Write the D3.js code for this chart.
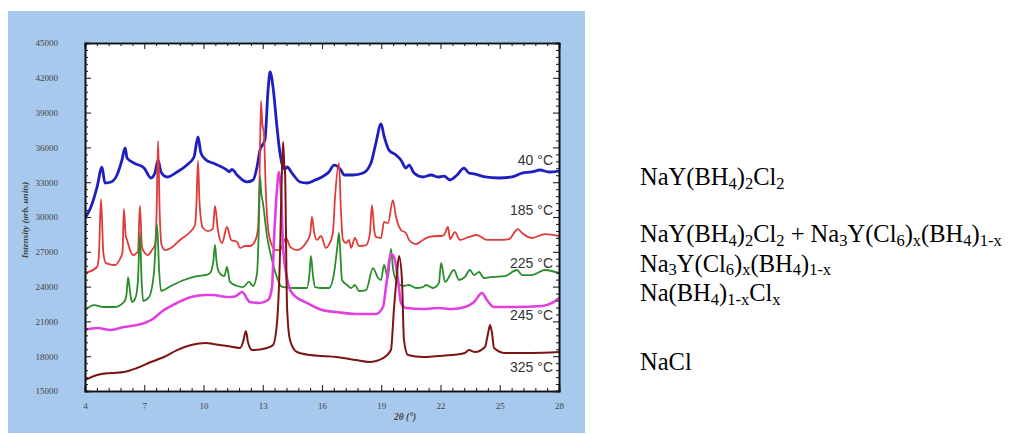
<!DOCTYPE html>
<html>
<head>
<meta charset="utf-8">
<script src="https://cdn.jsdelivr.net/npm/d3@7/dist/d3.min.js"></script>
<style>
  html, body { margin: 0; padding: 0; background: #fff; }
  svg { display: block; }
</style>
</head>
<body>
<svg id="chart" width="1031" height="434"></svg>
<script>
// In-situ powder diffraction patterns: [2θ (°), intensity (arb. units)]
const scan40 = [
  [4.00,29900],[4.30,30860],[4.61,32580],[4.86,34300],[5.01,32930],[5.32,33020],[5.62,33620],
  [5.87,34910],[6.03,35950],[6.13,35080],[6.48,34650],[6.99,34220],[7.34,33360],[7.54,33790],
  [7.70,34910],[7.85,33880],[8.15,33450],[8.66,33880],[9.16,34480],[9.52,35170],[9.72,36900],
  [9.87,35520],[10.13,34910],[10.48,34650],[11.19,34050],[11.30,33900],[11.44,34100],[11.70,33620],
  [12.20,33020],[12.51,33190],[12.71,34310],[12.86,35770],[13.11,36640],[13.27,40950],[13.37,42500],
  [13.52,41200],[13.72,37760],[13.87,35520],[14.03,34310],[14.13,34150],[14.23,34310],[14.48,33790],
  [14.89,33020],[15.24,32930],[15.65,33190],[16.00,33450],[16.35,33880],[16.61,34480],[16.96,34050],
  [17.11,33620],[17.57,33620],[18.08,33790],[18.48,34650],[18.73,36380],[18.99,38020],[19.14,37000],
  [19.39,35770],[19.75,35340],[20.00,34910],[20.25,34220],[20.41,34480],[20.66,33790],[21.11,33450],
  [21.52,33620],[21.87,33450],[22.18,33530],[22.48,33190],[22.84,33620],[23.19,34220],[23.44,33790],
  [23.75,33700],[24.25,33450],[24.96,33360],[25.62,33450],[26.13,33790],[26.63,33880],[27.04,34050],
  [27.49,33880],[28.00,33960]
];

const scan185 = [
  [4.00,25170],[4.61,25690],[4.70,26600],[4.81,31550],[4.93,26900],[5.06,26030],[5.52,25860],
  [5.77,26380],[5.90,27000],[5.97,30690],[6.06,28400],[6.13,28020],[6.28,27150],[6.43,26720],
  [6.68,27000],[6.78,30950],[6.88,27500],[6.94,27150],[7.19,26720],[7.39,27150],[7.54,27580],
  [7.62,30000],[7.70,36550],[7.78,30500],[7.88,27580],[8.05,27150],[8.35,27330],[8.81,28020],
  [9.32,28710],[9.57,29310],[9.64,31000],[9.72,34830],[9.80,31200],[9.97,29050],[10.23,28790],
  [10.48,29000],[10.58,30950],[10.73,28880],[10.94,27760],[11.19,29140],[11.40,28020],[11.70,27850],
  [11.85,27330],[12.10,27500],[12.35,27500],[12.61,27930],[12.76,29000],[12.84,33500],[12.91,40000],
  [12.98,38000],[13.06,37240],[13.14,33000],[13.22,30000],[13.37,28020],[13.65,27150],[13.87,27150],
  [14.18,28190],[14.40,27400],[14.73,27150],[15.20,27800],[15.40,28500],[15.49,30000],[15.60,28700],
  [15.75,28020],[15.95,28360],[16.20,27330],[16.35,27600],[16.55,28600],[16.66,31720],[16.86,34650],
  [16.96,30500],[17.06,28020],[17.22,27760],[17.37,28020],[17.47,27330],[17.67,28190],[17.87,27500],
  [18.23,27580],[18.42,28500],[18.53,31030],[18.65,28800],[18.73,28280],[18.99,28190],[19.14,29570],
  [19.34,29480],[19.59,31460],[19.75,30000],[20.00,28880],[20.25,28620],[20.41,28020],[20.76,27670],
  [21.11,28020],[21.42,28280],[21.87,28360],[22.03,28360],[22.20,28500],[22.38,29140],[22.48,28100],
  [22.73,28700],[22.99,28020],[23.44,28280],[23.85,28450],[24.35,28020],[24.96,28020],[25.47,28100],
  [25.92,28960],[26.13,28620],[26.63,28190],[27.29,28530],[28.00,28360]
];

const scan225 = [
  [4.00,21980],[4.46,22410],[4.96,22240],[5.47,22240],[5.97,22670],[6.10,23300],[6.18,24820],
  [6.30,23300],[6.38,22670],[6.55,23000],[6.68,24500],[6.78,28620],[6.86,24800],[6.94,22760],
  [7.24,23100],[7.49,25170],[7.65,29310],[7.75,25500],[7.85,23620],[8.35,24050],[9.01,24570],
  [9.67,24910],[10.13,25000],[10.33,25170],[10.50,26200],[10.58,27590],[10.66,26200],[10.78,25260],
  [11.05,24900],[11.19,25690],[11.34,24400],[11.70,24050],[12.00,23960],[12.30,24400],[12.51,24050],
  [12.71,25170],[12.80,29000],[12.86,33450],[12.93,32000],[13.01,31200],[13.22,28280],[13.47,26300],
  [13.70,24900],[13.95,24000],[14.53,23880],[15.24,23880],[15.36,25000],[15.44,26640],[15.54,25000],
  [15.65,23960],[16.00,23880],[16.35,23880],[16.61,25170],[16.78,27500],[16.86,28620],[16.94,26500],
  [17.01,24570],[17.27,24140],[17.47,23880],[17.67,24140],[17.87,23620],[18.23,23700],[18.58,25600],
  [18.84,24740],[18.99,24570],[19.14,25860],[19.34,24740],[19.49,27240],[19.60,25500],[19.75,24570],
  [20.10,24050],[20.41,24140],[20.76,23880],[21.11,23960],[21.27,24140],[21.62,23880],[21.92,24310],
  [22.03,26040],[22.23,24400],[22.68,25430],[22.94,24570],[23.24,24830],[23.49,25430],[23.70,24990],
  [23.95,25260],[24.20,24740],[24.61,24830],[25.27,24910],[25.87,25430],[26.13,24990],[26.63,24990],
  [27.29,25430],[28.00,25170]
];

const scan245 = [
  [4.00,20260],[4.61,20430],[5.32,20260],[5.97,20520],[6.63,20690],[7.34,21120],[8.00,21980],
  [8.66,22590],[9.37,23100],[10.13,23280],[10.48,23280],[11.19,23100],[11.60,23150],[11.95,23530],
  [12.35,22670],[12.86,22590],[13.27,22840],[13.47,23960],[13.57,28020],[13.72,32330],[13.82,33880],
  [13.92,32330],[14.03,27410],[14.18,25170],[14.48,23450],[15.24,22590],[16.00,21980],[16.71,21810],
  [17.72,21640],[18.73,21640],[19.09,22240],[19.24,23960],[19.49,26810],[19.65,26550],[19.85,24570],
  [20.00,22590],[20.25,22160],[21.11,22070],[21.87,22160],[22.58,22070],[23.24,22240],[23.70,22670],
  [24.10,23450],[24.35,22840],[24.71,22240],[25.77,22240],[27.14,22330],[27.65,22590],[28.00,23020]
];

const scan325 = [
  [4.00,15950],[4.61,16380],[5.32,16550],[5.97,16640],[6.63,16980],[7.34,17500],[8.00,17930],
  [8.66,18530],[9.37,18970],[10.13,19140],[10.48,19050],[11.19,18880],[11.85,18710],[12.00,19220],
  [12.15,20170],[12.25,19220],[12.46,18530],[13.22,18710],[13.52,18970],[13.72,20860],[13.87,26550],
  [13.97,34000],[14.03,36460],[14.09,34500],[14.13,33790],[14.23,22240],[14.38,19400],[14.73,18360],
  [15.39,18100],[16.00,18020],[16.71,17930],[17.72,17670],[18.38,17500],[19.09,17840],[19.49,18530],
  [19.65,22240],[19.80,25170],[19.90,26640],[20.05,24570],[20.15,19400],[20.35,18100],[21.11,17930],
  [21.87,18020],[22.58,18100],[23.24,18280],[23.44,18530],[23.75,18360],[24.25,18790],[24.41,19990],
  [24.51,20690],[24.61,19990],[24.71,18710],[25.27,18280],[26.63,18280],[28.00,18360]
];

const seriesNames = ["40 °C", "185 °C", "225 °C", "245 °C", "325 °C"];
const seriesColors = ["#1f1fbf", "#e03a3a", "#2a8c2a", "#e040e0", "#7d1414"];
const seriesWidths = [2.8, 1.8, 1.8, 2.6, 2.0];
const seriesData = [scan40, scan185, scan225, scan245, scan325];
// vertical position (intensity) of each temperature label
const labelLevels = [34450, 30150, 25600, 21100, 16600];

const xTicks = [4, 7, 10, 13, 16, 19, 22, 25, 28];
const yTicks = [15000, 18000, 21000, 24000, 27000, 30000, 33000, 36000, 39000, 42000, 45000];

const phaseLines = [
  [["NaY(BH", ""], ["4", "sub"], [")", ""], ["2", "sub"], ["Cl", ""], ["2", "sub"]],
  [["NaY(BH", ""], ["4", "sub"], [")", ""], ["2", "sub"], ["Cl", ""], ["2", "sub"],
   [" + Na", ""], ["3", "sub"], ["Y(Cl", ""], ["6", "sub"], [")", ""], ["x", "sub"],
   ["(BH", ""], ["4", "sub"], [")", ""], ["1-x", "sub"]],
  [["Na", ""], ["3", "sub"], ["Y(Cl", ""], ["6", "sub"], [")", ""], ["x", "sub"],
   ["(BH", ""], ["4", "sub"], [")", ""], ["1-x", "sub"]],
  [["Na(BH", ""], ["4", "sub"], [")", ""], ["1-x", "sub"], ["Cl", ""], ["x", "sub"]],
  [["NaCl", ""]]
];
const phaseBaselines = [185, 242, 271.5, 301, 370];

const svg = d3.select("#chart");

// panel background
svg.append("rect").attr("x", 8).attr("y", 11).attr("width", 577).attr("height", 422)
  .attr("fill", "#a7c9ed");

const plotLeft = 85, plotRight = 559, plotTop = 43, plotBottom = 391;
svg.append("rect").attr("x", plotLeft).attr("y", plotTop)
  .attr("width", plotRight - plotLeft).attr("height", plotBottom - plotTop)
  .attr("fill", "#ffffff");

const x = d3.scaleLinear().domain([4, 28]).range([plotLeft, plotRight]);
const y = d3.scaleLinear().domain([15000, 45000]).range([plotBottom, plotTop]);

svg.append("clipPath").attr("id", "plotclip").append("rect")
  .attr("x", plotLeft).attr("y", plotTop)
  .attr("width", plotRight - plotLeft).attr("height", plotBottom - plotTop);

const line = d3.line().x(d => x(d[0])).y(d => y(d[1])).curve(d3.curveMonotoneX);

const plot = svg.append("g").attr("clip-path", "url(#plotclip)");
seriesData.forEach((data, i) => {
  plot.append("path").datum(data)
    .attr("d", line)
    .attr("fill", "none")
    .attr("stroke", seriesColors[i])
    .attr("stroke-width", seriesWidths[i])
    .attr("stroke-linejoin", "round");
});

// temperature labels
seriesNames.forEach((name, i) => {
  svg.append("text")
    .attr("x", plotRight - 6).attr("y", y(labelLevels[i]))
    .attr("text-anchor", "end")
    .attr("font-family", "Liberation Sans, Arial, sans-serif")
    .attr("font-size", 14)
    .attr("fill", "#333")
    .text(name);
});

// axes: ticks pointing into the frame on all four sides
const minorX = d3.range(4, 28.001, 0.6).filter(v => !xTicks.some(t => Math.abs(t - v) < 1e-6));
const minorY = d3.range(15000, 45001, 600).filter(v => v % 3000 !== 0);

const axisFont = "Liberation Serif, Times New Roman, serif";

const gx = svg.append("g").attr("transform", `translate(0,${plotBottom})`)
  .call(d3.axisBottom(x).tickValues(xTicks).tickSize(-6).tickPadding(12).tickFormat(d3.format("d")));
const gxMinor = svg.append("g").attr("transform", `translate(0,${plotBottom})`)
  .call(d3.axisBottom(x).tickValues(minorX).tickSize(-3).tickFormat(""));
const gxTop = svg.append("g").attr("transform", `translate(0,${plotTop})`)
  .call(d3.axisTop(x).tickValues(xTicks).tickSize(-6).tickFormat(""));
const gxTopMinor = svg.append("g").attr("transform", `translate(0,${plotTop})`)
  .call(d3.axisTop(x).tickValues(minorX).tickSize(-3).tickFormat(""));

const gy = svg.append("g").attr("transform", `translate(${plotLeft},0)`)
  .call(d3.axisLeft(y).tickValues(yTicks).tickSize(-6).tickPadding(27).tickFormat(d3.format("d")));
const gyMinor = svg.append("g").attr("transform", `translate(${plotLeft},0)`)
  .call(d3.axisLeft(y).tickValues(minorY).tickSize(-3).tickFormat(""));
const gyRight = svg.append("g").attr("transform", `translate(${plotRight},0)`)
  .call(d3.axisRight(y).tickValues(yTicks).tickSize(-6).tickFormat(""));
const gyRightMinor = svg.append("g").attr("transform", `translate(${plotRight},0)`)
  .call(d3.axisRight(y).tickValues(minorY).tickSize(-3).tickFormat(""));

[gx, gxMinor, gxTop, gxTopMinor, gy, gyMinor, gyRight, gyRightMinor].forEach(g => {
  g.select(".domain").attr("stroke", "#111").attr("stroke-width", 1.6);
  g.selectAll(".tick line").attr("stroke", "#222").attr("stroke-width", 1.1);
  g.selectAll(".tick text").attr("font-family", axisFont).attr("font-size", 9).attr("fill", "#444");
});

// axis titles
svg.append("text")
  .attr("x", 405).attr("y", 420)
  .attr("text-anchor", "middle")
  .attr("font-family", axisFont).attr("font-size", 9.5)
  .attr("font-style", "italic").attr("font-weight", "bold").attr("fill", "#444")
  .text("2θ (°)");
svg.append("text")
  .attr("transform", "translate(28,220) rotate(-90)")
  .attr("text-anchor", "middle")
  .attr("font-family", axisFont).attr("font-size", 9)
  .attr("font-style", "italic").attr("font-weight", "bold").attr("fill", "#444")
  .text("Intensity (arb. units)");

// phase assignments listed beside the patterns, with chemical subscripts
phaseLines.forEach((parts, i) => {
  const t = svg.append("text")
    .attr("x", 640).attr("y", phaseBaselines[i])
    .attr("font-family", "Liberation Serif, Times New Roman, serif")
    .attr("font-size", 24.5).attr("fill", "#000");
  parts.forEach(([s, kind], j) => {
    const prev = j > 0 ? parts[j - 1][1] : "";
    let dy = 0;
    if (kind === "sub" && prev !== "sub") dy = 3.5;
    if (kind !== "sub" && prev === "sub") dy = -3.5;
    const ts = t.append("tspan").attr("dy", dy).text(s);
    if (kind === "sub") ts.attr("font-size", 16.5);
  });
});
</script>
</body>
</html>
